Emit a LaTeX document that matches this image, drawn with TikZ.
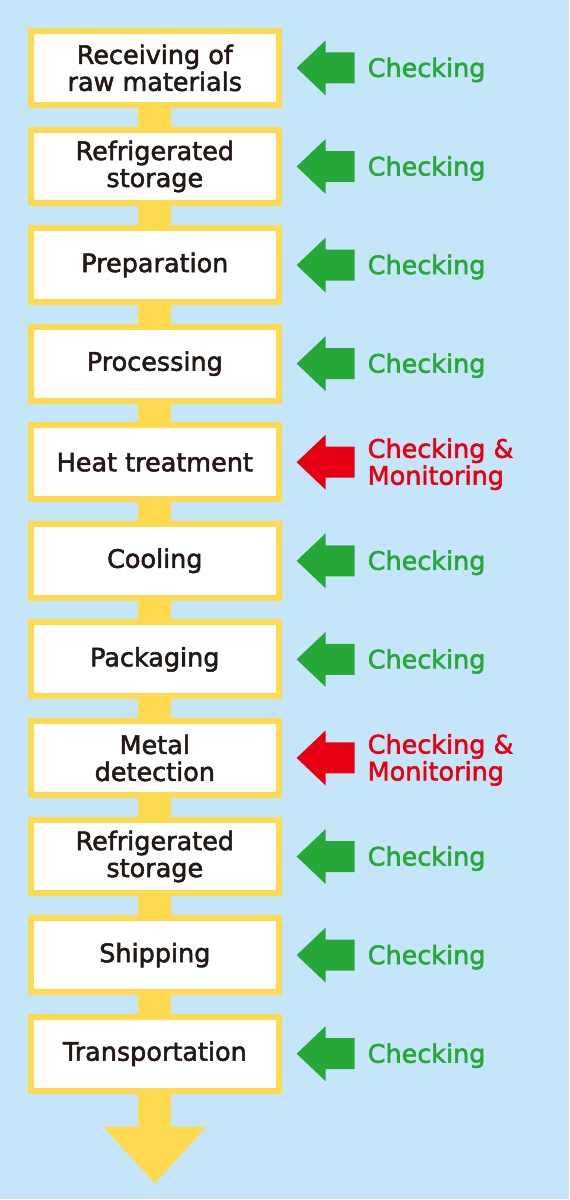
\documentclass[tikz,border=0pt]{standalone}
\usepackage{fontspec}
\setmainfont{DejaVu Sans}[UprightFeatures={FakeBold=2}]
\usetikzlibrary{arrows.meta,positioning}
\definecolor{skyback}{RGB}{197,230,248}
\definecolor{flowyellow}{RGB}{253,218,79}
\definecolor{checkgreen}{RGB}{38,168,56}
\definecolor{monitorred}{RGB}{230,0,18}
\definecolor{inkdark}{RGB}{35,24,21}

\begin{document}
\begin{tikzpicture}[x=1pt,y=-1pt,node distance=24.7pt,stage/.style={draw=flowyellow,line width=6pt,fill=white,minimum width=248pt,minimum height=74pt,align=center,inner sep=0pt,outer sep=0pt,text=inkdark,font=\fontsize{25.5}{27}\selectfont},note/.style={inner sep=0pt,align=left,yshift=-2pt,font=\fontsize{25.5}{27}\selectfont},flow/.style={flowyellow,line width=33pt},handarrow/.pic={\fill (0,0) -- (29,-27.5) -- (29,-15.5) -- (58,-15.5) -- (58,15.5) -- (29,15.5) -- (29,27.5) -- cycle;}]
\fill[skyback](0,0) rectangle (570,1200);
\node[stage](recv) at (155,68){Receiving of\\raw materials};
\node[stage,below=of recv](store1){Refrigerated\\storage};
\node[stage,below=of store1](prep){Preparation};
\node[stage,below=of prep](proc){Processing};
\node[stage,below=of proc](heat){Heat treatment};
\node[stage,below=of heat](cool){Cooling};
\node[stage,below=of cool](pack){Packaging};
\node[stage,below=of pack](metal){Metal\\detection};
\node[stage,below=of metal](store2){Refrigerated\\storage};
\node[stage,below=of store2](ship){Shipping};
\node[stage,below=of ship](trans){Transportation};
\coordinate[below=93pt of trans](flowend);
% flow line
\draw[flow](recv.south)--(store1.north);\draw[flow](store1.south)--(prep.north);\draw[flow](prep.south)--(proc.north);
\draw[flow](proc.south)--(heat.north);\draw[flow](heat.south)--(cool.north);\draw[flow](cool.south)--(pack.north);
\draw[flow](pack.south)--(metal.north);\draw[flow](metal.south)--(store2.north);\draw[flow](store2.south)--(ship.north);
\draw[flow](ship.south)--(trans.north);
\draw[flow,-{Triangle[width=103pt,length=57pt,line width=0pt]}](trans.south)--(flowend);
% checks
\node[note,text=checkgreen,right=89pt of recv](recvchk){Checking};
\node[note,text=checkgreen,right=89pt of store1](store1chk){Checking};
\node[note,text=checkgreen,right=89pt of prep](prepchk){Checking};
\node[note,text=checkgreen,right=89pt of proc](procchk){Checking};
\node[note,text=monitorred,right=89pt of heat](heatchk){Checking \&\\Monitoring};
\node[note,text=checkgreen,right=89pt of cool](coolchk){Checking};
\node[note,text=checkgreen,right=89pt of pack](packchk){Checking};
\node[note,text=monitorred,right=89pt of metal](metalchk){Checking \&\\Monitoring};
\node[note,text=checkgreen,right=89pt of store2](store2chk){Checking};
\node[note,text=checkgreen,right=89pt of ship](shipchk){Checking};
\node[note,text=checkgreen,right=89pt of trans](transchk){Checking};
\pic[checkgreen] at ([xshift=18pt]recv.east){handarrow};
\pic[checkgreen] at ([xshift=18pt]store1.east){handarrow};
\pic[checkgreen] at ([xshift=18pt]prep.east){handarrow};
\pic[checkgreen] at ([xshift=18pt]proc.east){handarrow};
\pic[monitorred] at ([xshift=18pt]heat.east){handarrow};
\pic[checkgreen] at ([xshift=18pt]cool.east){handarrow};
\pic[checkgreen] at ([xshift=18pt]pack.east){handarrow};
\pic[monitorred] at ([xshift=18pt]metal.east){handarrow};
\pic[checkgreen] at ([xshift=18pt]store2.east){handarrow};
\pic[checkgreen] at ([xshift=18pt]ship.east){handarrow};
\pic[checkgreen] at ([xshift=18pt]trans.east){handarrow};
\end{tikzpicture}
\end{document}
